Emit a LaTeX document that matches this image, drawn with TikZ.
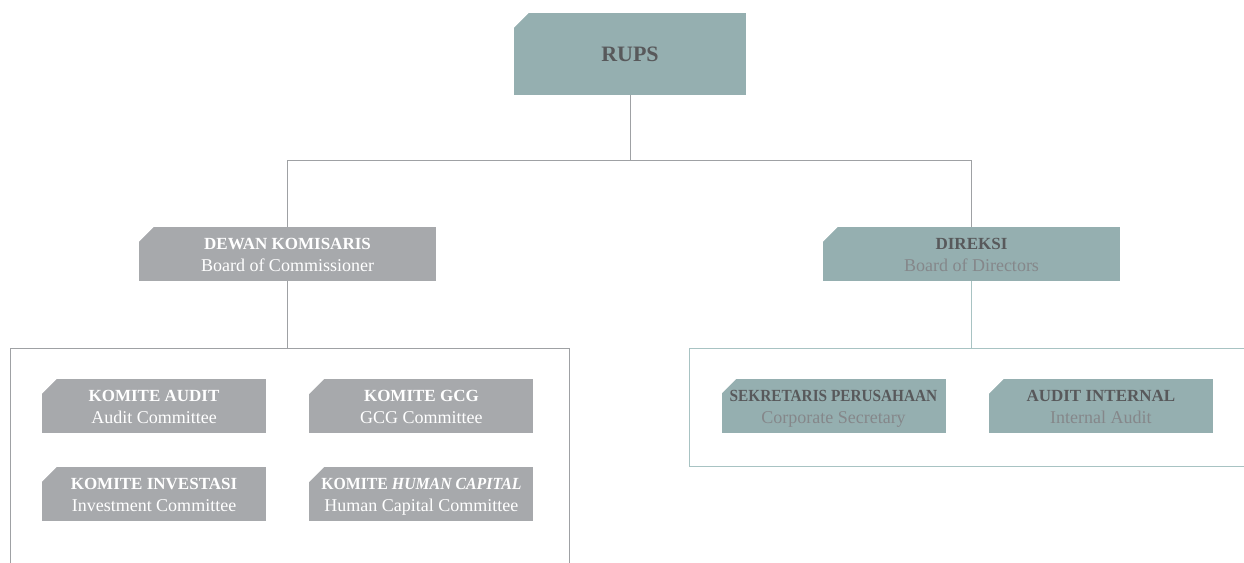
\documentclass[tikz,border=0pt]{standalone}
\usepackage{fontspec}
\setmainfont{Liberation Serif}
\usetikzlibrary{positioning}
\definecolor{boxgray}{HTML}{A7A9AC}
\definecolor{boxteal}{HTML}{95AFB0}
\definecolor{txtdark}{HTML}{58595B}
\definecolor{txtlight}{HTML}{85878A}
\definecolor{linegray}{HTML}{9FA1A4}
\definecolor{lineteal}{HTML}{A8C3C3}
\colorlet{titlecolor}{white}
\newcommand{\unitlabel}[2]{\rule{0pt}{19.4pt}{\color{titlecolor}\bfseries #1}\\\strut{\fontsize{18}{22}\selectfont #2}}

\begin{document}
\begin{tikzpicture}[x=1pt, y=-1pt, node distance=43pt]
        \tikzstyle{unit} = [rectangle, inner sep=0pt, minimum width=224pt, minimum height=54pt, align=center, font=\fontsize{17}{22}\selectfont]
        \tikzstyle{graybox} = [unit, fill=boxgray, text=white, execute at begin node={\colorlet{titlecolor}{white}}]
        \tikzstyle{tealbox} = [unit, fill=boxteal, text=txtlight, execute at begin node={\colorlet{titlecolor}{txtdark}}]
        \tikzstyle{link} = [draw=linegray, line width=1pt]
        \tikzstyle{tlink} = [draw=lineteal, line width=1pt]

        \useasboundingbox (0,0) rectangle (1244,562);

        % frames round the committees and the units
        \draw[link] (10,348) rectangle (569,600);
        \draw[tlink] (689,348) rectangle (1260,466);
        \coordinate (bus) at (0,160);
        \coordinate (frametop) at (0,348);

        \node[unit, fill=boxteal, text=txtdark, minimum width=232pt, minimum height=82pt, font=\fontsize{22}{26}\selectfont\bfseries](rups) at (630,54) {RUPS};
        \node[graybox, minimum width=297pt](dekom) at (287.5,254) {\unitlabel{DEWAN KOMISARIS}{Board of Commissioner}};
        \node[tealbox, minimum width=297pt](direksi) at (971.5,254) {\unitlabel{DIREKSI}{Board of Directors}};

        \node[graybox](audit) at (154,406) {\unitlabel{KOMITE AUDIT}{Audit Committee}};
        \node[graybox](gcg) [right=of audit] {\unitlabel{KOMITE GCG}{GCG Committee}};
        \node[graybox](invest) at (154,494) {\unitlabel{KOMITE INVESTASI}{Investment Committee}};
        \node[graybox](hc) [right=of invest] {\unitlabel{\scalebox{0.93}[1]{KOMITE \textit{HUMAN CAPITAL}}}{Human Capital Committee}};

        \node[tealbox](sekper) at (833.5,406) {\unitlabel{\scalebox{0.9}[1]{SEKRETARIS PERUSAHAAN}}{Corporate Secretary}};
        \node[tealbox](ai) [right=of sekper] {\unitlabel{AUDIT INTERNAL}{Internal Audit}};

        % cut corners
        \foreach \n in {rups, dekom, direksi, audit, gcg, invest, hc, sekper, ai}
            \fill[white] (\n.north west) -- ++(15,0) -- ++(-15,15) -- cycle;

        \draw[link] (rups.south) -- (rups.south |- bus);
        \draw[link] (dekom.north |- bus) -- (direksi.north |- bus);
        \draw[link] (dekom.north |- bus) -- (dekom.north);
        \draw[link] (direksi.north |- bus) -- (direksi.north);
        \draw[link] (dekom.south) -- (dekom.south |- frametop);
        \draw[tlink] (direksi.south) -- (direksi.south |- frametop);
\end{tikzpicture}
\end{document}
